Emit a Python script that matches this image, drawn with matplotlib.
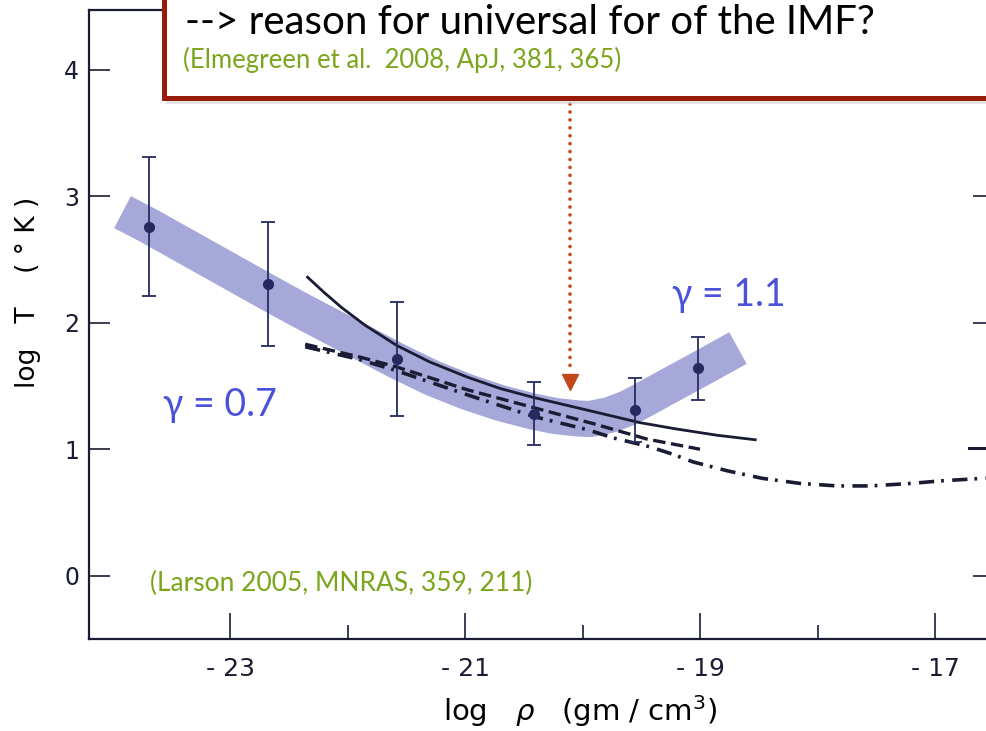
import matplotlib

matplotlib.use("Agg")
import matplotlib.pyplot as plt
from matplotlib.patches import Rectangle

INK = "#1a1c33"
PT = "#252b60"
BAND = "#a5a8d8"
GREEN = "#7aa51c"
BLUE = "#4b52d9"
BOX = "#981b0b"
ARROW = "#c2481a"

plt.rcParams.update({
    "font.family": "DejaVu Sans", "lines.scale_dashes": False,
    "axes.edgecolor": INK, "xtick.color": INK, "ytick.color": INK,
})

# observed points (log rho, log T) with error bars
RHO_OBS = [-23.69, -22.68, -21.58, -20.41, -19.55, -19.02]
T_OBS = [2.76, 2.31, 1.71, 1.28, 1.31, 1.64]
T_ERR = [0.55, 0.49, 0.45, 0.25, 0.25, 0.25]

# solid model curve
RHO_SOLID = [-22.34, -22.2, -22.05, -21.85, -21.58, -21.3, -20.98, -20.7, -20.42,
             -20.1, -19.85, -19.51, -19.2, -18.85, -18.53]
T_SOLID = [2.36, 2.24, 2.12, 1.98, 1.82, 1.69, 1.57, 1.48, 1.41,
           1.34, 1.285, 1.21, 1.16, 1.11, 1.075]

# dash-dot model curve
RHO_DD = [-22.36, -21.9, -21.58, -20.98, -20.42, -19.96, -19.74, -19.43, -19.23,
          -19.06, -18.77, -18.47, -18.15, -17.83, -17.55, -17.20, -16.95, -16.5]
T_DD = [1.81, 1.71, 1.62, 1.43, 1.26, 1.155, 1.09, 1.02, 0.96,
        0.90, 0.83, 0.77, 0.73, 0.71, 0.71, 0.73, 0.75, 0.775]

# dashed model curve (two visible pieces)
RHO_DASH = [-22.36, -21.9, -21.58, -20.98, -20.42, -19.9, -19.45, -19.0]
T_DASH = [1.83, 1.73, 1.65, 1.47, 1.33, 1.20, 1.08, 1.00]
RHO_DASH2 = [-16.71, -16.5]
T_DASH2 = [1.01, 1.01]

# highlighted band (gamma = 0.7 -> 1.1)
RHO_BAND = [-23.915, -23.689, -22.685, -22.404, -21.579, -21.281, -20.983, -20.702,
            -20.421, -20.234, -20.038, -19.936, -19.766, -19.613, -19.468, -19.298,
            -19.0, -18.677]
T_BAND = [2.874, 2.765, 2.243, 2.10, 1.698, 1.564, 1.453, 1.366,
          1.298, 1.263, 1.243, 1.239, 1.271, 1.326, 1.397, 1.484,
          1.634, 1.80]

ARROW_X = -20.11
ARROW_Y = [3.73, 1.60]
ARROW_TIP = 1.53

XTICKS = [-23, -21, -19, -17]
XTICKLABELS = ["- 23", "- 21", "- 19", "- 17"]
YTICKS = [0, 1, 2, 3, 4]

W, H = 986, 731
fig = plt.figure(figsize=(W / 100, H / 100), dpi=100)
ax = fig.add_axes([89 / W, (H - 639) / H, (993.75 - 89) / W, (639 - 10) / H])
ax.set_xlim(-24.2, -16.5)
ax.set_ylim(-0.5, 4.472)

ax.plot(RHO_BAND, T_BAND, color=BAND, lw=26, solid_capstyle="butt",
        solid_joinstyle="round", zorder=1)
ax.plot(RHO_SOLID, T_SOLID, color=INK, lw=2.0, zorder=3)
ax.plot(RHO_DD, T_DD, color=INK, lw=2.6, dashes=(11, 5, 2, 6), zorder=3)
ax.plot(RHO_DASH, T_DASH, color=INK, lw=2.4, dashes=(9, 4), zorder=3)
ax.plot(RHO_DASH2, T_DASH2, color=INK, lw=2.2, zorder=3)
ax.errorbar(RHO_OBS, T_OBS, yerr=T_ERR, fmt="o", color=PT, ms=7, elinewidth=1.3,
            capsize=5, capthick=1.3, zorder=4)

ax.plot([ARROW_X, ARROW_X], ARROW_Y, color=ARROW, lw=2.6, dashes=(0.1, 5.6),
        dash_capstyle="round", zorder=5)
ax.plot([ARROW_X], [ARROW_TIP], marker="v", color=ARROW, ms=12, zorder=5)

for s in ax.spines.values():
    s.set_linewidth(1.6)
ax.set_xticks(XTICKS)
ax.set_xticklabels(XTICKLABELS)
ax.set_xticks([-22, -20, -18], minor=True)
ax.set_yticks(YTICKS)
ax.tick_params(axis="x", which="major", direction="in", length=19, width=1.2,
               labelsize=18, pad=13)
ax.tick_params(axis="x", which="minor", direction="in", length=10, width=1.2)
ax.tick_params(axis="y", direction="in", length=15, width=1.2, labelsize=17,
               pad=7, right=True)
ax.set_xlabel("log   $\\rho$   (gm / cm$^{3}$)", fontsize=21, va="center")
ax.xaxis.set_label_coords((580 - 89) / 904.75, (639 - 711) / 629)
ax.set_ylabel("log   T    ( ° K )", fontsize=19, va="center")
ax.yaxis.set_label_coords((28 - 89) / 904.75, (639 - 292) / 629)

ax.text(-23.57, 1.35, "γ = 0.7", color=BLUE, fontsize=27, family="Lato",
        va="center", ha="left")
ax.text(-19.24, 2.22, "γ = 1.1", color=BLUE, fontsize=27, family="Lato",
        va="center", ha="left")

fig.text(150 / W, 1 - 583 / H, "(Larson 2005, MNRAS, 359, 211)", color=GREEN,
         fontsize=19, family="Lato", va="center", ha="left")

# title box overlay
fig.patches.append(Rectangle((166 / W, 1 - 104 / H), 900 / W, 130 / H,
                             transform=fig.transFigure, facecolor="#d0d0d0",
                             edgecolor="none", alpha=0.6, zorder=6))
fig.patches.append(Rectangle((164 / W, 1 - 98 / H), 900 / W, 130 / H,
                             transform=fig.transFigure, facecolor="white",
                             edgecolor=BOX, lw=3.6, zorder=7))
fig.text(185 / W, 1 - 34 / H, "--> reason for universal for of the IMF?",
         color="black", fontsize=29, family="Lato", va="baseline", ha="left",
         zorder=8)
fig.text(183 / W, 1 - 60 / H, "(Elmegreen et al.  2008, ApJ, 381, 365)",
         color=GREEN, fontsize=18.5, family="Lato", va="center", ha="left",
         zorder=8)

fig.savefig("out.png", dpi=100)
